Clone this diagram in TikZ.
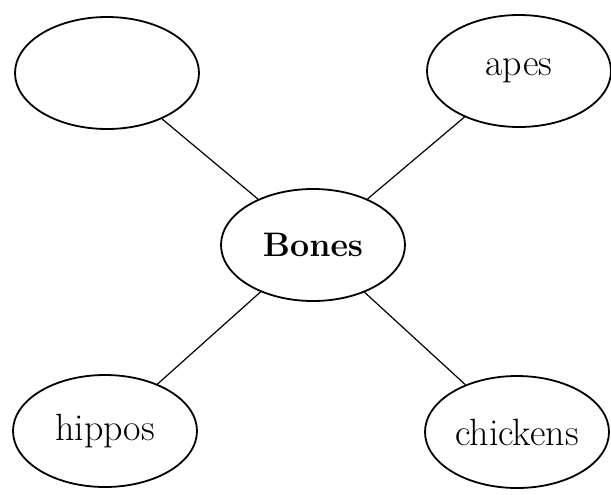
\documentclass[tikz,border=0pt]{standalone}
\usepackage{tikz}
\usetikzlibrary{shapes.geometric}

\begin{document}
\begin{tikzpicture}[
  x=0.5pt, y=-0.5pt,
  bubble/.style={draw, ellipse, line width=0.9pt, inner sep=0pt, minimum width=92pt, minimum height=56pt, font=\fontsize{19}{22}\selectfont},
  spoke/.style={draw, line width=0.6pt}
]
\useasboundingbox (0,0) rectangle (611,494);
\node[bubble] (bones) at (313,245) {\fontsize{17}{20}\selectfont\textbf{Bones}};
\node[bubble] (blank) at (107,73) {};
\node[bubble] (apes) at (519,71) {apes};
\node[bubble] (hippos) at (105,431) {hippos};
\node[bubble] (chickens) at (517,432) {chickens};
\draw[spoke] (blank) -- (bones);
\draw[spoke] (apes) -- (bones);
\draw[spoke] (hippos) -- (bones);
\draw[spoke] (chickens) -- (bones);
\end{tikzpicture}
\end{document}
